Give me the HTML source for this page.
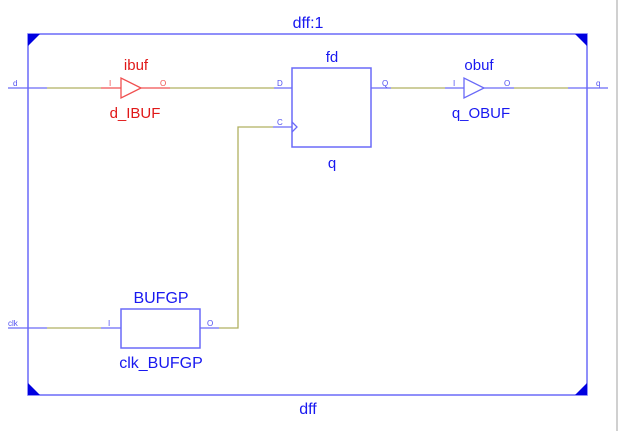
<!DOCTYPE html>
<html><head><meta charset="utf-8"><style>
html,body{margin:0;padding:0;background:#fff;width:623px;height:431px;overflow:hidden}
text{font-family:"Liberation Sans",sans-serif}
</style></head><body>
<svg width="623" height="431" viewBox="0 0 623 431" xmlns="http://www.w3.org/2000/svg">
<rect x="616" y="0" width="2" height="431" fill="#d0d0d0"/>
<rect x="28" y="34" width="559" height="361" fill="none" stroke="#6a6af8" stroke-width="1.5"/>
<polygon points="28,34 40,34 28,46" fill="#0000e0"/>
<polygon points="587,34 575,34 587,46" fill="#0000e0"/>
<polygon points="28,395 40,395 28,383" fill="#0000e0"/>
<polygon points="587,395 575,395 587,383" fill="#0000e0"/>
<text x="308" y="28" font-size="16" fill="#1818f0" text-anchor="middle">dff:1</text>
<text x="308" y="414" font-size="16" fill="#1818f0" text-anchor="middle">dff</text>
<g stroke-width="1.3" fill="none">
<line x1="8" y1="88" x2="47" y2="88" stroke="#6a6af8"/>
<line x1="47" y1="88" x2="101" y2="88" stroke="#b0b060"/>
<line x1="101" y1="88" x2="170" y2="88" stroke="#f05050"/>
<line x1="170" y1="88" x2="274" y2="88" stroke="#b0b060"/>
<line x1="274" y1="88" x2="292" y2="88" stroke="#6a6af8"/>
<polygon points="121,78 121,98 141,88" fill="#fff" stroke="#f05050"/>
<rect x="292" y="68" width="79" height="79" fill="#fff" stroke="#6a6af8" stroke-width="1.5"/>
<polyline points="292,122 297,127 292,132" stroke="#6a6af8"/>
<line x1="273" y1="127" x2="292" y2="127" stroke="#6a6af8"/>
<polyline points="273,127 238,127 238,328 219,328" stroke="#b0b060"/>
<line x1="200" y1="328" x2="219" y2="328" stroke="#6a6af8"/>
<line x1="371" y1="88" x2="391" y2="88" stroke="#6a6af8"/>
<line x1="391" y1="88" x2="445" y2="88" stroke="#b0b060"/>
<line x1="445" y1="88" x2="514" y2="88" stroke="#6a6af8"/>
<line x1="514" y1="88" x2="568" y2="88" stroke="#b0b060"/>
<line x1="568" y1="88" x2="608" y2="88" stroke="#6a6af8"/>
<polygon points="464,78 464,98 484,88" fill="#fff" stroke="#6a6af8"/>
<line x1="8" y1="328" x2="47" y2="328" stroke="#6a6af8"/>
<line x1="47" y1="328" x2="101" y2="328" stroke="#b0b060"/>
<line x1="101" y1="328" x2="121" y2="328" stroke="#6a6af8"/>
<rect x="121" y="309" width="79" height="39" fill="#fff" stroke="#6a6af8" stroke-width="1.5"/>
</g>
<g font-size="8" fill="#5050f0">
<text x="13" y="86">d</text>
<text x="8" y="326">clk</text>
<text x="596" y="86">q</text>
<text x="277" y="86">D</text>
<text x="277" y="125">C</text>
<text x="382" y="86">Q</text>
<text x="453" y="86">I</text>
<text x="504" y="86">O</text>
<text x="108" y="326">I</text>
<text x="207" y="326">O</text>
</g>
<g font-size="8" fill="#f05050"><text x="109" y="86">I</text><text x="160" y="86">O</text></g>
<g font-size="15" text-anchor="middle">
<text x="136" y="70" fill="#e01818">ibuf</text>
<text x="135" y="118" fill="#e01818">d_IBUF</text>
<text x="479" y="70" fill="#1818f0">obuf</text>
<text x="481" y="118" fill="#1818f0">q_OBUF</text>
<text x="332" y="62" fill="#1818f0">fd</text>
<text x="332" y="168" fill="#1818f0">q</text>
<text x="161" y="303" fill="#1818f0" font-size="16">BUFGP</text>
<text x="161" y="368" fill="#1818f0" font-size="16">clk_BUFGP</text>
</g>
</svg>
</body></html>
